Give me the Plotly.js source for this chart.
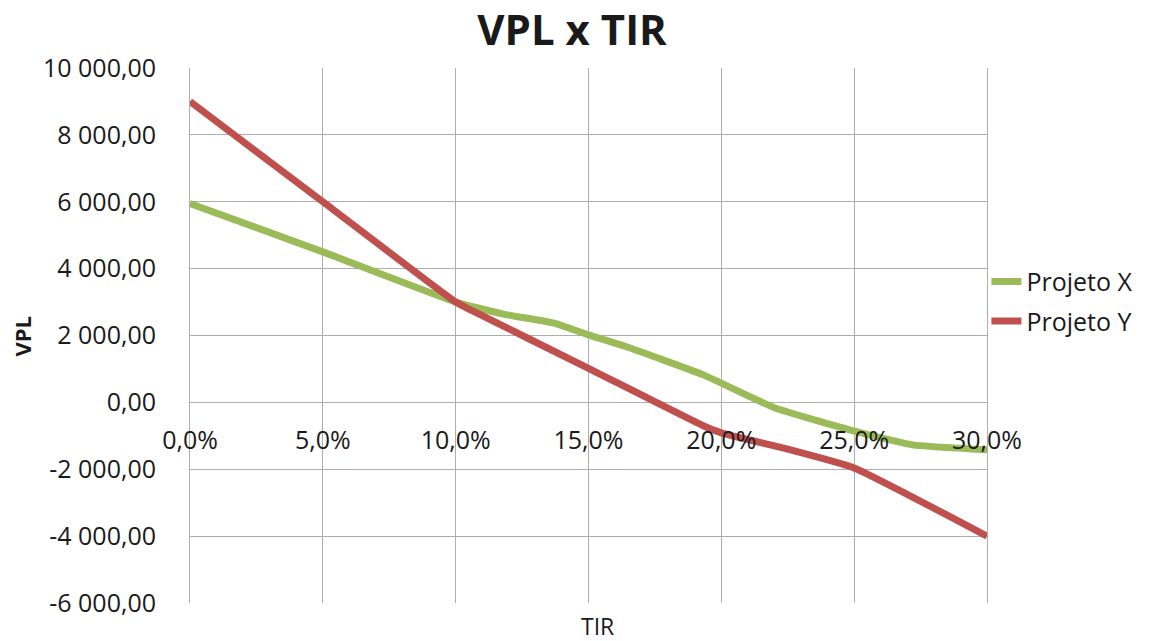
<!DOCTYPE html>
<html><head><meta charset="utf-8">
<script src="https://cdn.plot.ly/plotly-3.0.1.min.js"></script>
<style>html,body{margin:0;padding:0;background:#fff}#chart{width:1151px;height:641px}</style>
</head><body><div id="chart"></div>
<script>
const tirX = [0, 5, 10, 11.8, 13.7, 15, 16.4, 19.3, 22, 25, 27.2, 30];
const vplX = [5950, 4500, 3000, 2640, 2370, 2020, 1670, 830, -160, -860, -1270, -1420];
const tirY = [0, 5, 10, 10.6, 15, 19.3, 20, 22.5, 25, 30];
const vplY = [9000, 6000, 3000, 2750, 1020, -690, -910, -1400, -1960, -4000];
const seriesNames = ['Projeto X', 'Projeto Y'];
const xTickVals = [0, 5, 10, 15, 20, 25, 30];
const xTickText = ['0,0%', '5,0%', '10,0%', '15,0%', '20,0%', '25,0%', '30,0%'];
const yTickVals = [-6000, -4000, -2000, 0, 2000, 4000, 6000, 8000, 10000];
const yTickText = ['-6 000,00', '-4 000,00', '-2 000,00', '0,00', '2 000,00', '4 000,00', '6 000,00', '8 000,00', '10 000,00'];

const FONT = '"Open Sans", "Noto Sans", sans-serif';
const GRID = '#ADADAD';
const traces = [
  {x: tirX, y: vplX, name: seriesNames[0], legendgroup: 'a', mode: 'lines', type: 'scatter',
   line: {color: '#9BBB59', width: 7, shape: 'spline', smoothing: 0.4}},
  {x: tirY, y: vplY, name: seriesNames[1], legendgroup: 'b', mode: 'lines', type: 'scatter',
   line: {color: '#C0504D', width: 7, shape: 'spline', smoothing: 0.4}}
];
const layout = {
  width: 1151, height: 641,
  paper_bgcolor: '#fff', plot_bgcolor: '#fff',
  margin: {l: 190, r: 164, t: 68, b: 38, autoexpand: false},
  font: {family: FONT, size: 25, color: '#1a1a1a'},
  title: {text: '<b>VPL x TIR</b>', font: {family: FONT, size: 42, color: '#1a1a1a'},
          x: 0.497, xref: 'container', xanchor: 'center', y: 0.953, yref: 'container', yanchor: 'middle'},
  xaxis: {range: [0, 30], tickvals: xTickVals, ticktext: xTickText, showgrid: true, gridcolor: GRID, gridwidth: 1,
          zeroline: true, zerolinecolor: GRID, zerolinewidth: 1, showline: false,
          anchor: 'free', position: 0.375, ticks: '', ticklabelstandoff: 21,
          tickfont: {family: FONT, size: 25, color: '#1a1a1a'}, fixedrange: true},
  yaxis: {range: [-6000, 10000], tickvals: yTickVals, ticktext: yTickText, showgrid: true, gridcolor: GRID, gridwidth: 1,
          zeroline: true, zerolinecolor: GRID, zerolinewidth: 1, showline: true, mirror: true, linecolor: GRID, linewidth: 1,
          ticks: '', ticklabelstandoff: 28, tickfont: {family: FONT, size: 25, color: '#1a1a1a'}, fixedrange: true},
  legend: {xref: 'container', yref: 'container', x: 0.857, xanchor: 'left', y: 0.53, yanchor: 'middle',
           font: {family: FONT, size: 25, color: '#1a1a1a'},
           bgcolor: 'rgba(0,0,0,0)', itemwidth: 30, tracegroupgap: 4},
  annotations: [
    {text: '<b>VPL</b>', xref: 'paper', yref: 'paper', x: -0.2108, y: 0.5, xanchor: 'center', yanchor: 'middle',
     textangle: -90, showarrow: false, font: {family: FONT, size: 22, color: '#1a1a1a'}},
    {text: 'TIR', xref: 'paper', yref: 'paper', x: 0.511, y: -0.043, xanchor: 'center', yanchor: 'middle',
     showarrow: false, font: {family: FONT, size: 23, color: '#1a1a1a'}}
  ],
  showlegend: true
};
Plotly.newPlot('chart', traces, layout, {displayModeBar: false, staticPlot: true});
</script>
</body></html>
